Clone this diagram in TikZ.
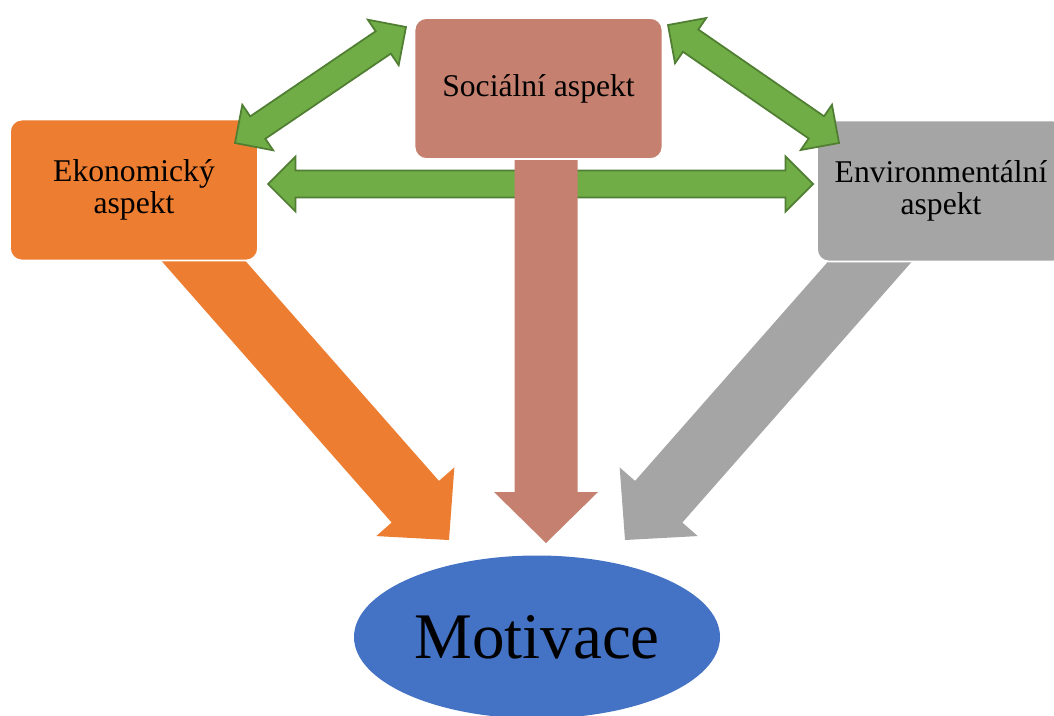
\documentclass[tikz,border=0pt]{standalone}
\usepackage{fontspec}
\setmainfont{Liberation Serif}
\usetikzlibrary{calc,shapes.geometric,backgrounds}

\definecolor{ekoorange}{HTML}{ED7D31}
\definecolor{socsalmon}{HTML}{C5806F}
\definecolor{envgray}{HTML}{A5A5A5}
\definecolor{motblue}{HTML}{4472C4}
\definecolor{lnkgreen}{HTML}{70AD47}
\definecolor{lnkdark}{HTML}{507E32}

% double block arrow between two coordinates
\newcommand{\linkarrow}[2]{%
  \path ($(#1)!0.55cm!(#2)$) coordinate (ha) ($(#2)!0.55cm!(#1)$) coordinate (hb);
  \draw[lnk] (#1) -- ($(ha)!0.55cm!90:(#2)$) -- ($(ha)!0.27cm!90:(#2)$)
    -- ($(hb)!0.27cm!-90:(#1)$) -- ($(hb)!0.55cm!-90:(#1)$) -- (#2)
    -- ($(hb)!0.55cm!90:(#1)$) -- ($(hb)!0.27cm!90:(#1)$)
    -- ($(ha)!0.27cm!-90:(#2)$) -- ($(ha)!0.55cm!-90:(#2)$) -- cycle;}
% single block arrow, #1 = colour
\newcommand{\flowarrow}[3]{%
  \path ($(#3)!1.02cm!(#2)$) coordinate (hc);
  \fill[#1] ($(#2)!0.63cm!90:(#3)$) -- ($(hc)!0.63cm!-90:(#2)$)
    -- ($(hc)!1.04cm!-90:(#2)$) -- (#3) -- ($(hc)!1.04cm!90:(#2)$)
    -- ($(hc)!0.63cm!90:(#2)$) -- ($(#2)!0.63cm!-90:(#3)$) -- cycle;}

\begin{document}
\begin{tikzpicture}[
    x=0.2mm, y=-0.2mm,
    every node/.style={font=\fontsize{18}{18.5}\selectfont},
    asp/.style={rectangle, rounded corners=0.24cm, draw=white, line width=1pt,
                minimum width=4.96cm, minimum height=2.82cm, align=center, inner sep=2pt},
    lnk/.style={fill=lnkgreen, draw=lnkdark, line width=1pt, line join=miter},
    mot/.style={ellipse, fill=motblue, minimum width=7.32cm, minimum height=3.26cm,
                font=\fontsize{37}{40}\selectfont},
  ]
  \useasboundingbox (0,0) rectangle (1054,715);

  \node[asp, fill=socsalmon] (soc) at (538.5,88.5) {Sociální aspekt};
  \node[asp, fill=ekoorange] (eko) at (134,190) {Ekonomický\\aspekt};
  \node[asp, fill=envgray] (env) at (941,191) {Environmentální\\aspekt};
  \node[mot] (motiv) at (537,637) {Motivace};

  % ends of the connectors
  \coordinate (ekoIn) at (235,143);
  \coordinate (socL) at (406,27);
  \coordinate (socR) at (668,25);
  \coordinate (envIn) at (839,143);
  \coordinate (ekoR) at (268,184);
  \coordinate (envL) at (813,184);
  \coordinate (ekoOut) at (178,232);
  \coordinate (socOut) at (546,140);
  \coordinate (envOut) at (896,232);
  \coordinate (motL) at (449,540);
  \coordinate (motT) at (546,543);
  \coordinate (motR) at (625,540);

  \begin{scope}[on background layer]
    \linkarrow{ekoR}{envL}
    \flowarrow{ekoorange}{ekoOut}{motL}
    \flowarrow{envgray}{envOut}{motR}
    \flowarrow{socsalmon}{socOut}{motT}
  \end{scope}

  \linkarrow{ekoIn}{socL}
  \linkarrow{socR}{envIn}
\end{tikzpicture}
\end{document}
